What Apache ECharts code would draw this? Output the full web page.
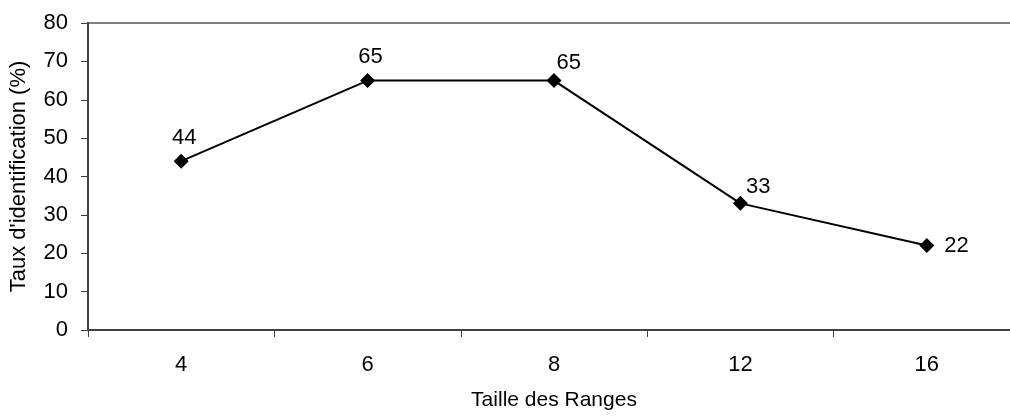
<!DOCTYPE html>
<html>
<head>
<meta charset="utf-8">
<script src="https://cdn.jsdelivr.net/npm/echarts@6/dist/echarts.min.js"></script>
<style>
  html, body { margin: 0; padding: 0; background: #fff; overflow: hidden; }
  #wrap { width: 1010px; height: 416px; overflow: hidden; }
  #chart { width: 1040px; height: 416px; }
</style>
</head>
<body>
<div id="wrap"><div id="chart"></div></div>
<script>
// Identification rate by range size
const categories = ['4', '6', '8', '12', '16'];
const rates = [44, 65, 65, 33, 22];
const yTicks = { min: 0, max: 80, interval: 10 };

// Label placement for each point (above or to the upper right)
const labelPlacement = [
  { position: 'top', offset: [3, 0] },
  { position: 'top', offset: [3, 0] },
  { position: 'right', offset: [-10, -18] },
  { position: 'right', offset: [-7, -16] },
  { position: 'right', offset: [5, 0] }
];

const font = 'Liberation Sans, Arial, sans-serif';
const chart = echarts.init(document.getElementById('chart'), null, { renderer: 'canvas' });

chart.setOption({
  animation: false,
  backgroundColor: '#ffffff',
  grid: {
    left: 87, top: 23, width: 933, height: 310,
    show: true, borderColor: '#808080', borderWidth: 2, backgroundColor: 'transparent'
  },
  xAxis: {
    type: 'category',
    data: categories,
    boundaryGap: true,
    name: 'Taille des Ranges',
    nameLocation: 'middle',
    nameGap: 60,
    nameTextStyle: { fontFamily: font, fontSize: 21, color: '#000' },
    axisLine: { lineStyle: { color: '#404040', width: 2 } },
    axisTick: { show: true, length: 7, alignWithLabel: false, lineStyle: { color: '#404040', width: 1 } },
    axisLabel: { margin: 24, fontFamily: font, fontSize: 22, color: '#000' },
    splitLine: { show: false }
  },
  yAxis: {
    type: 'value',
    min: yTicks.min, max: yTicks.max, interval: yTicks.interval,
    name: "Taux d'identification (%)",
    nameLocation: 'middle',
    nameGap: 58,
    nameRotate: 90,
    nameTextStyle: { fontFamily: font, fontSize: 22, color: '#000' },
    axisLine: { show: true, lineStyle: { color: '#404040', width: 2 } },
    axisTick: { show: true, length: 7, lineStyle: { color: '#404040', width: 1 } },
    axisLabel: { margin: 20, fontFamily: font, fontSize: 22, color: '#000' },
    splitLine: { show: false }
  },
  series: [{
    type: 'line',
    data: rates.map((v, i) => ({
      value: v,
      label: { position: labelPlacement[i].position, offset: labelPlacement[i].offset }
    })),
    symbol: 'diamond',
    symbolSize: 15,
    showAllSymbol: true,
    lineStyle: { color: '#000', width: 2 },
    itemStyle: { color: '#000' },
    label: { show: true, fontFamily: font, fontSize: 22, color: '#000', distance: 5 }
  }]
});
</script>
</body>
</html>
